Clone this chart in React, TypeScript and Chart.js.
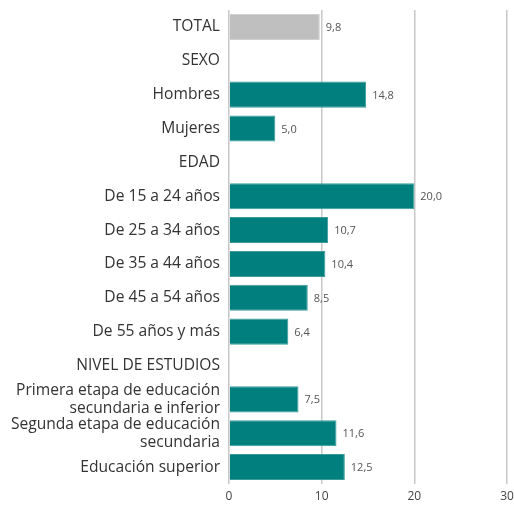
import React, { useEffect, useRef } from "react";
import { Chart, registerables } from "chart.js";
Chart.register(...registerables);

const categories: (string | string[])[] = [
  "TOTAL",
  "SEXO",
  "Hombres",
  "Mujeres",
  "EDAD",
  "De 15 a 24 años",
  "De 25 a 34 años",
  "De 35 a 44 años",
  "De 45 a 54 años",
  "De 55 años y más",
  "NIVEL DE ESTUDIOS",
  ["Primera etapa de educación", "secundaria e inferior"],
  ["Segunda etapa de educación", "secundaria"],
  "Educación superior",
];
const values: (number | null)[] = [9.8, null, 14.8, 5.0, null, 20.0, 10.7, 10.4, 8.5, 6.4, null, 7.5, 11.6, 12.5];
const xTicks = [0, 10, 20, 30];

const TEAL = "#007f7f";
const GRAY = "#bfbfbf";
const FONT = "'Open Sans', Lato, sans-serif";

const labelPlugin = {
  id: "valueLabels",
  afterDatasetsDraw(chart: any) {
    const ctx = chart.ctx;
    const meta = chart.getDatasetMeta(0);
    ctx.save();
    ctx.font = "11px " + FONT;
    ctx.fillStyle = "#555";
    ctx.textAlign = "left";
    ctx.textBaseline = "middle";
    meta.data.forEach((el: any, i: number) => {
      const v = values[i];
      if (v == null) return;
      ctx.fillText(v.toFixed(1).replace(".", ","), el.x + 6, el.y + 1);
    });
    ctx.restore();
  },
};

export default function App() {
  const ref = useRef<HTMLCanvasElement>(null);
  useEffect(() => {
    const chart = new Chart(ref.current!, {
      type: "bar",
      data: {
        labels: categories,
        datasets: [
          {
            data: values,
            backgroundColor: values.map((_, i) => (i === 0 ? GRAY : TEAL)),
            borderColor: values.map((_, i) => (i === 0 ? "#d0d0d0" : "#3a9a9a")),
            borderWidth: 1,
            barPercentage: 0.77,
            categoryPercentage: 1,
          },
        ],
      },
      options: {
        indexAxis: "y",
        animation: false,
        responsive: false,
        maintainAspectRatio: false,
        layout: { padding: { top: 10, right: 7, left: 8, bottom: 0 } },
        plugins: { legend: { display: false }, tooltip: { enabled: false } },
        scales: {
          x: {
            min: 0,
            max: 30,
            afterBuildTicks: (s: any) => {
              s.ticks = xTicks.map((v) => ({ value: v }));
            },
            afterFit: (s: any) => {
              s.paddingRight = 0;
              s.paddingLeft = 0;
              s.height = 21;
            },
            grid: { color: "#c8c8c8", lineWidth: 1.5, drawTicks: false },
            border: { display: false },
            ticks: {
              color: "#444",
              font: { family: FONT, size: 12 },
              padding: 5,
            },
          },
          y: {
            grid: { display: false, drawTicks: false },
            border: { display: false },
            afterFit: (s: any) => {
              s.width = 221;
              s.paddingTop = 0;
              s.paddingBottom = 0;
            },
            ticks: {
              color: "#333",
              font: { family: FONT, size: 15.6, lineHeight: 1.15 },
              padding: 9,
              autoSkip: false,
            },
          },
        },
      },
      plugins: [labelPlugin],
    });
    return () => chart.destroy();
  }, []);
  return (
    <div style={{ position: "absolute", left: 0, top: 0, width: 514, height: 505 }}>
      <canvas ref={ref} width={514} height={505} />
    </div>
  );
}
